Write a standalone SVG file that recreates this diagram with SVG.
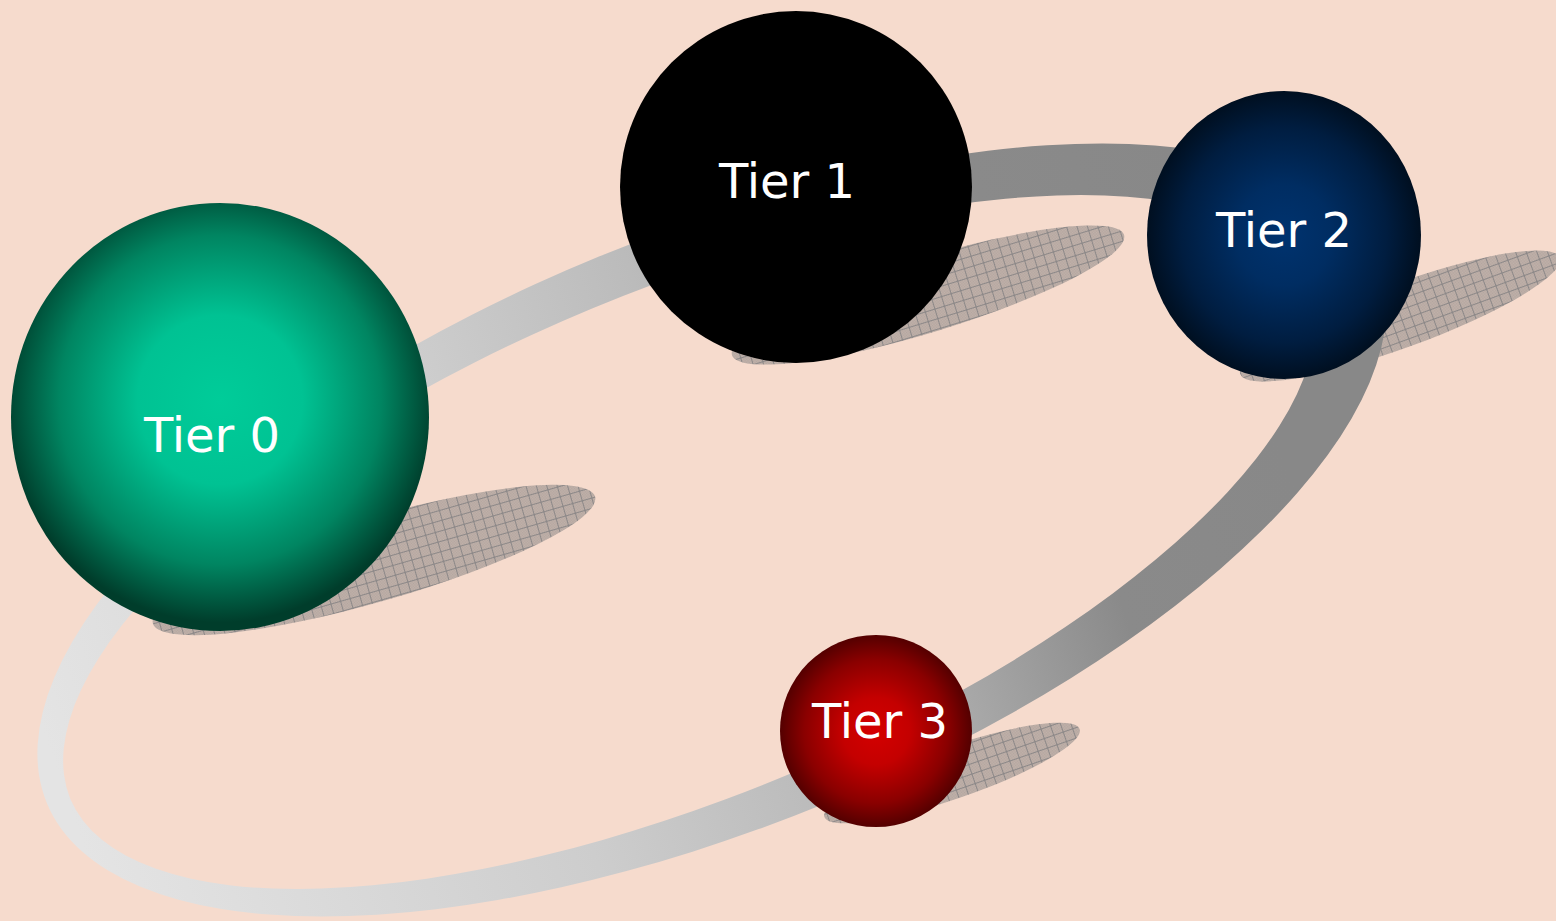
<svg xmlns="http://www.w3.org/2000/svg" width="1556" height="921" viewBox="0 0 1556 921">
  <defs>
    <style>
      .label { font-family: "DejaVu Sans", Verdana, sans-serif; font-size: 48px; fill: #ffffff; text-anchor: middle; }
      .shadow { fill: url(#hatch); }
    </style>
    <pattern id="fine" width="2" height="2" patternUnits="userSpaceOnUse">
      <rect width="2" height="2" fill="#c2b2aa"/>
      <rect width="1" height="1" fill="#b3a6a0"/>
      <rect x="1" y="1" width="1" height="1" fill="#b3a6a0"/>
    </pattern>
    <pattern id="hatch" width="10" height="10" patternUnits="userSpaceOnUse">
      <rect width="10" height="10" fill="url(#fine)"/>
      <path d="M0.5,0 V10 M0,0.5 H10" stroke="#8c8888" stroke-width="1" fill="none"/>
    </pattern>
    <linearGradient id="ringGrad" gradientUnits="userSpaceOnUse" x1="60" y1="780" x2="1250" y2="360">
      <stop offset="0" stop-color="#e4e4e4"/>
      <stop offset="0.38" stop-color="#cdcdcd"/>
      <stop offset="0.56" stop-color="#bbbbbb"/>
      <stop offset="0.7" stop-color="#a8a8a8"/>
      <stop offset="0.84" stop-color="#8a8a8a"/>
      <stop offset="1" stop-color="#888888"/>
    </linearGradient>
    <radialGradient id="g0" cx="0.5" cy="0.46" r="0.52">
      <stop offset="0" stop-color="#00cc99"/>
      <stop offset="0.38" stop-color="#00c293"/>
      <stop offset="0.74" stop-color="#008561"/>
      <stop offset="1" stop-color="#003d2b"/>
    </radialGradient>
    <radialGradient id="g2" cx="0.5" cy="0.5" r="0.5">
      <stop offset="0" stop-color="#00336f"/>
      <stop offset="0.35" stop-color="#002d62"/>
      <stop offset="0.75" stop-color="#001d40"/>
      <stop offset="1" stop-color="#000f20"/>
    </radialGradient>
    <radialGradient id="g3" cx="0.5" cy="0.5" r="0.5">
      <stop offset="0" stop-color="#d40000"/>
      <stop offset="0.35" stop-color="#c40000"/>
      <stop offset="0.75" stop-color="#8a0000"/>
      <stop offset="1" stop-color="#540000"/>
    </radialGradient>
  </defs>

  <rect width="1556" height="921" fill="#f6dbcd"/>

  <g id="shadows">
    <ellipse class="shadow" cx="374" cy="560" rx="230" ry="42" transform="rotate(-16 374 560)"/>
    <ellipse class="shadow" cx="928" cy="295" rx="205" ry="37" transform="rotate(-17 928 295)"/>
    <ellipse class="shadow" cx="1400" cy="316" rx="170" ry="32" transform="rotate(-20 1400 316)"/>
    <ellipse class="shadow" cx="952" cy="773" rx="135" ry="26" transform="rotate(-19 952 773)"/>
  </g>

  <g id="connectors">
    <path fill="url(#ringGrad)" fill-rule="evenodd" d="M46.8,802.9 A719,296 -22.3 0 1 1377.2,257.1 A719,296 -22.3 0 1 46.8,802.9 Z M70.3,799.1 A670,254 -22.57 0 1 1307.7,284.9 A670,254 -22.57 0 1 70.3,799.1 Z"/>
  </g>

  <g id="tier0">
    <ellipse cx="220" cy="417" rx="209" ry="214" fill="url(#g0)"/>
    <text class="label" x="212" y="452">Tier 0</text>
  </g>
  <g id="tier1">
    <circle cx="796" cy="187" r="176" fill="#000000"/>
    <text class="label" x="787" y="198">Tier 1</text>
  </g>
  <g id="tier2">
    <ellipse cx="1284" cy="235" rx="137" ry="144" fill="url(#g2)"/>
    <text class="label" x="1284" y="247">Tier 2</text>
  </g>
  <g id="tier3">
    <circle cx="876" cy="731" r="96" fill="url(#g3)"/>
    <text class="label" x="880" y="738">Tier 3</text>
  </g>
</svg>
